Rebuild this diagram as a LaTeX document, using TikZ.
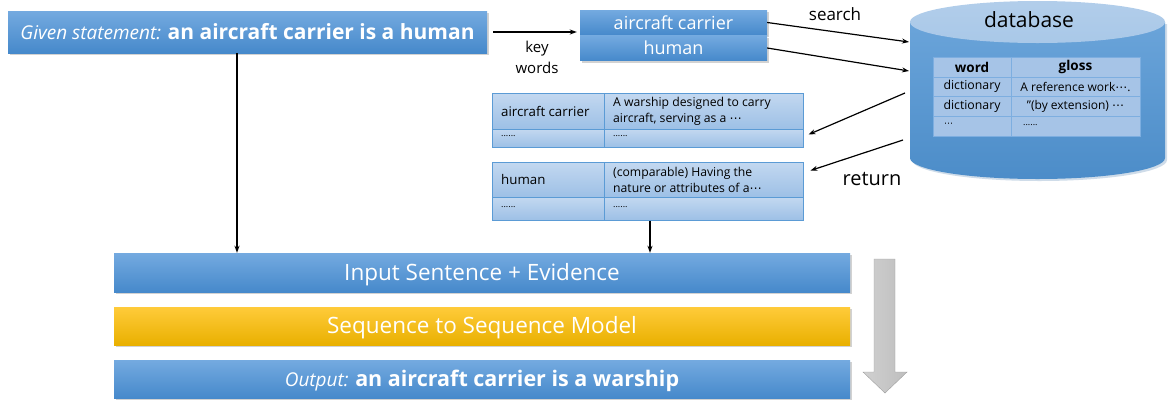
\documentclass[tikz,border=0pt]{standalone}
\usepackage{fontspec}
\setmainfont{Open Sans}
\newfontfamily\dvfont{DejaVu Sans}
\usetikzlibrary{shadows,arrows.meta}
\definecolor{bTop}{HTML}{74AAE0}
\definecolor{bBot}{HTML}{4689CB}
\definecolor{yTop}{HTML}{FFCB3A}
\definecolor{yBot}{HTML}{E9B000}
\definecolor{tTop}{HTML}{C3D8F0}
\definecolor{tBot}{HTML}{9DC0E6}
\definecolor{tLine}{HTML}{5B9BD5}
\definecolor{dbTop}{HTML}{A9C8E8}
\definecolor{dbBody}{HTML}{5094D3}
\definecolor{dbCell}{HTML}{A6C4E7}
\definecolor{dbLine}{HTML}{7DAEE0}
\definecolor{gArrow}{HTML}{C8C8C8}
\newcommand{\mdots}{{\dvfont\char"22EF}}
\tikzset{
  bluebox/.style={top color=bTop, bottom color=bBot, draw=none, inner sep=0pt, text=white,
     drop shadow={shadow xshift=1.5pt, shadow yshift=-2pt, opacity=0.35}},
  goldbox/.style={top color=yTop, bottom color=yBot, draw=none, inner sep=0pt, text=white,
     drop shadow={shadow xshift=1.5pt, shadow yshift=-2pt, opacity=0.35}},
  lowtext/.style={text height=17pt, text depth=2pt},
  tcell/.style={top color=tTop, bottom color=tBot, draw=tLine, line width=1pt, inner sep=0pt},
  dbcell/.style={fill=dbCell, draw=dbLine, line width=1pt, inner sep=0pt},
  arr/.style={-{Stealth[length=7pt,width=5pt]}, line width=1.2pt, black},
  lbl/.style={inner sep=0pt, text=black},
}
\begin{document}
\begin{tikzpicture}[x=1pt,y=-1pt]
\useasboundingbox[fill=white] (0,0) rectangle (1171,405);

% given statement
\node[bluebox, minimum width=479pt, minimum height=42pt] (given) at (247.5,32)
  {\fontsize{19}{21}\selectfont\textit{Given statement:} \fontsize{21}{23}\selectfont\textbf{an aircraft carrier is a human}};

% key word boxes
\node[bluebox, minimum width=187pt, minimum height=25pt, font=\fontsize{18}{20}\selectfont] (kw1) at (673.5,22.5) {aircraft carrier};
\node[bluebox, minimum width=187pt, minimum height=25pt, font=\fontsize{18}{20}\selectfont] (kw2) at (673.5,48) {human};

% database cylinder
\fill[dbBody!80!black, opacity=0.25] (912,24) -- (912,160) arc[start angle=180, end angle=360, x radius=127.5, y radius=-21] -- (1167,24) -- cycle;
\shade[top color=dbBody!85!white, bottom color=dbBody!95!black] (910,22) -- (910,158) arc[start angle=180, end angle=360, x radius=127.5, y radius=-21] -- (1165,22) -- cycle;
\shade[top color=dbTop!90!white, bottom color=dbTop] (1037.5,22) ellipse[x radius=127.5, y radius=21];
\node[lbl, font=\fontsize{21}{24}\selectfont] (dbname) at (1029,20) {database};

% database table
\node[dbcell, minimum width=78pt, minimum height=20pt, font=\fontsize{13.5}{15}\selectfont\bfseries] (dh1) at (972,67) {word};
\node[dbcell, minimum width=129pt, minimum height=20pt, font=\fontsize{13.5}{15}\selectfont\bfseries] (dh2) at (1075.5,67) {gloss};
\node[dbcell, minimum width=78pt, minimum height=19pt, font=\fontsize{12.3}{13}\selectfont] (d11) at (972,86.5) {dictionary};
\node[dbcell, minimum width=129pt, minimum height=19pt, font=\fontsize{12}{13}\selectfont] (d12) at (1075.5,86.5) {A reference work\mdots.};
\node[dbcell, minimum width=78pt, minimum height=20pt, font=\fontsize{12.3}{13}\selectfont] (d21) at (972,106) {dictionary};
\node[dbcell, minimum width=129pt, minimum height=20pt, font=\fontsize{12}{13}\selectfont] (d22) at (1075.5,106) {"(by extension) \mdots};
\node[dbcell, minimum width=78pt, minimum height=20pt] (d31) at (972,126) {};
\node[dbcell, minimum width=129pt, minimum height=20pt] (d32) at (1075.5,126) {};
\node[lbl, anchor=west, font=\fontsize{9}{10}\selectfont] (d31t) at (944,125) {\mdots};
\node[lbl, anchor=west, font=\fontsize{9}{10}\selectfont] (d32t) at (1023,125) {......};

% result table 1
\node[tcell, minimum width=112pt, minimum height=36pt] (a11) at (548,111) {};
\node[tcell, minimum width=199pt, minimum height=36pt] (a12) at (703.5,111) {};
\node[tcell, minimum width=112pt, minimum height=18pt] (a21) at (548,138) {};
\node[tcell, minimum width=199pt, minimum height=18pt] (a22) at (703.5,138) {};
\node[lbl, anchor=west, font=\fontsize{13.3}{15}\selectfont] (a11t) at (501,111) {aircraft carrier};
\node[lbl, anchor=west, align=left, font=\fontsize{12.2}{16}\selectfont] (a12t) at (613,111) {A warship designed to carry\\aircraft, serving as a \mdots};
\node[lbl, anchor=west, font=\fontsize{9}{10}\selectfont] (a21t) at (501,136) {......};
\node[lbl, anchor=west, font=\fontsize{9}{10}\selectfont] (a22t) at (613,136) {......};

% result table 2
\node[tcell, minimum width=112pt, minimum height=35pt] (b11) at (548,179.5) {};
\node[tcell, minimum width=199pt, minimum height=35pt] (b12) at (703.5,179.5) {};
\node[tcell, minimum width=112pt, minimum height=23pt] (b21) at (548,208.5) {};
\node[tcell, minimum width=199pt, minimum height=23pt] (b22) at (703.5,208.5) {};
\node[lbl, anchor=west, font=\fontsize{13.3}{15}\selectfont] (b11t) at (501,180) {human};
\node[lbl, anchor=west, align=left, font=\fontsize{12.2}{16}\selectfont] (b12t) at (613,179.5) {(comparable) Having the\\nature or attributes of a\mdots};
\node[lbl, anchor=west, font=\fontsize{9}{10}\selectfont] (b21t) at (501,207) {......};
\node[lbl, anchor=west, font=\fontsize{9}{10}\selectfont] (b22t) at (613,207) {......};

% bottom boxes
\node[bluebox, lowtext, minimum width=736pt, minimum height=39pt, font=\fontsize{22.5}{24}\selectfont] (input) at (482,272.5)
  {Input Sentence + Evidence};
\node[goldbox, lowtext, minimum width=736pt, minimum height=38pt, font=\fontsize{22.5}{24}\selectfont] (seq) at (482,326)
  {Sequence to Sequence Model};
\node[bluebox, lowtext, minimum width=736pt, minimum height=38pt] (output) at (482,379)
  {\fontsize{19}{21}\selectfont\textit{Output:} \fontsize{21.5}{23}\selectfont\textbf{an aircraft carrier is a warship}};

% big gray arrow
\shade[left color=gArrow!85!white, right color=gArrow!95!black, draw=gArrow!80!black, line width=0.4pt]
  (874,259) -- (895,259) -- (895,372) -- (907,372) -- (885,393) -- (863,372) -- (874,372) -- cycle;

% connectors
\coordinate (s1) at (909,42);
\coordinate (s2) at (909,71);
\coordinate (r1) at (905,93);
\coordinate (r2) at (903,140);
\draw[arr] ([xshift=6pt]given.east) -- ([xshift=-3pt]kw1.west |- given.east);
\node[lbl, align=center, font=\fontsize{15}{21}\selectfont] (kwlbl) at (537,57) {key\\words};
\draw[arr] (kw1.east) -- (s1);
\draw[arr] (kw2.east) -- (s2);
\node[lbl, font=\fontsize{17}{19}\selectfont] (search) at (835,14) {search};
\draw[arr] (r1) -- ([xshift=5pt,yshift=-5pt]a12.south east);
\draw[arr] (r2) -- ([xshift=7pt,yshift=-9pt]b12.north east);
\node[lbl, font=\fontsize{20}{22}\selectfont] (ret) at (872,179) {return};
\draw[arr] ([xshift=-10.5pt]given.south) -- ([xshift=-10.5pt]given.south |- input.north);
\draw[arr] (650,0 |- b22.south) -- (650,0 |- input.north);
\end{tikzpicture}
\end{document}
